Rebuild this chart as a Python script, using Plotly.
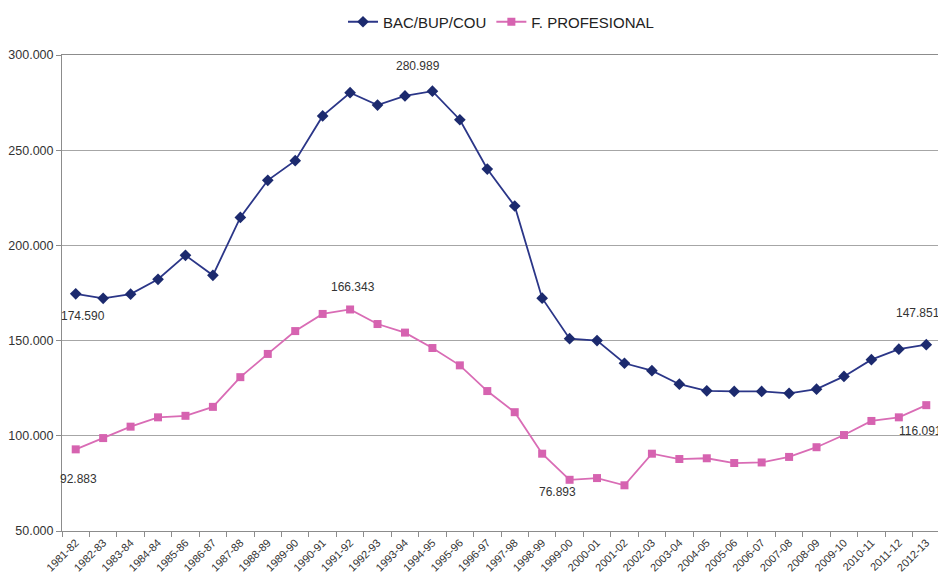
import plotly.graph_objects as go

categories = ["1981-82", "1982-83", "1983-84", "1984-84", "1985-86", "1986-87", "1987-88",
              "1988-89", "1989-90", "1990-91", "1991-92", "1992-93", "1993-94", "1994-95",
              "1995-96", "1996-97", "1997-98", "1998-99", "1999-00", "2000-01", "2001-02",
              "2002-03", "2003-04", "2004-05", "2005-06", "2006-07", "2007-08", "2008-09",
              "2009-10", "2010-11", "2011-12", "2012-13"]

bac_bup_cou = [174590, 172200, 174400, 182200, 194800, 184300, 214700, 234200, 244500,
               268000, 280200, 273700, 278500, 280989, 266000, 240100, 220700, 172300,
               151000, 150000, 138100, 134200, 127100, 123600, 123300, 123300, 122300,
               124500, 131200, 140000, 145500, 147851]

f_profesional = [92883, 98800, 104800, 109700, 110500, 115200, 130800, 143000, 155000,
                 164000, 166343, 158700, 154200, 146100, 137000, 123500, 112400, 90600,
                 76893, 77800, 74000, 90600, 87800, 88200, 85700, 86000, 88900, 94000,
                 100400, 107800, 109700, 116091]

series_names = ["BAC/BUP/COU", "F. PROFESIONAL"]
y_ticks = [50000, 100000, 150000, 200000, 250000, 300000]

# indices of points that carry a data label, with (xshift, yshift) in px
blue_labels = {0: (7, -22), 13: (-14, 25), 31: (-8, 32)}
pink_labels = {0: (3, -30), 10: (3, 22), 18: (-12, -12), 31: (-6, -26)}


def fmt(v):
    return f"{v:,}".replace(",", ".")


fig = go.Figure()
fig.add_trace(go.Scatter(
    x=categories, y=bac_bup_cou, name=series_names[0], mode="lines+markers",
    line=dict(color="#2b3688", width=1.8),
    marker=dict(symbol="diamond", size=9, color="#1c2a6e"),
    cliponaxis=False,
))
fig.add_trace(go.Scatter(
    x=categories, y=f_profesional, name=series_names[1], mode="lines+markers",
    line=dict(color="#d96cb5", width=1.8),
    marker=dict(symbol="square", size=8, color="#d663b0"),
    cliponaxis=False,
))

annotations = []
for values, idx in ((bac_bup_cou, blue_labels), (f_profesional, pink_labels)):
    for i, (dx, dy) in idx.items():
        annotations.append(dict(
            x=categories[i], y=values[i], xref="x", yref="y", text=fmt(values[i]),
            showarrow=False, xshift=dx, yshift=dy,
            font=dict(size=12, color="#333333"),
        ))

fig.update_layout(
    width=938, height=572,
    margin=dict(l=54, r=6, t=47, b=49, autoexpand=False),
    paper_bgcolor="white", plot_bgcolor="white",
    separators=",.",
    font=dict(family="Liberation Sans, Arial, sans-serif", color="#333333"),
    showlegend=True,
    legend=dict(orientation="h", x=0.5, xanchor="center",
                yref="container", y=1 - 14 / 572, yanchor="middle",
                font=dict(size=15, color="#222222"), itemwidth=30),
    annotations=annotations,
)
fig.update_xaxes(
    type="category", tickson="boundaries", ticks="outside", ticklen=5,
    tickcolor="#8c8c8c", tickangle=-45, tickfont=dict(size=11, color="#333333"),
    showline=True, linecolor="#8c8c8c", mirror=True, showgrid=False, automargin=False,
    range=[-0.5, len(categories) - 0.5],
)
fig.update_yaxes(
    range=[50000, 300000], tickvals=y_ticks, tickformat=",d",
    ticks="outside", ticklen=5, tickcolor="#8c8c8c",
    tickfont=dict(size=12.5, color="#333333"),
    showgrid=True, gridcolor="#a6a6a6", gridwidth=1,
    showline=True, linecolor="#8c8c8c", mirror=True, zeroline=False, automargin=False,
)

fig.write_html("out.html")
